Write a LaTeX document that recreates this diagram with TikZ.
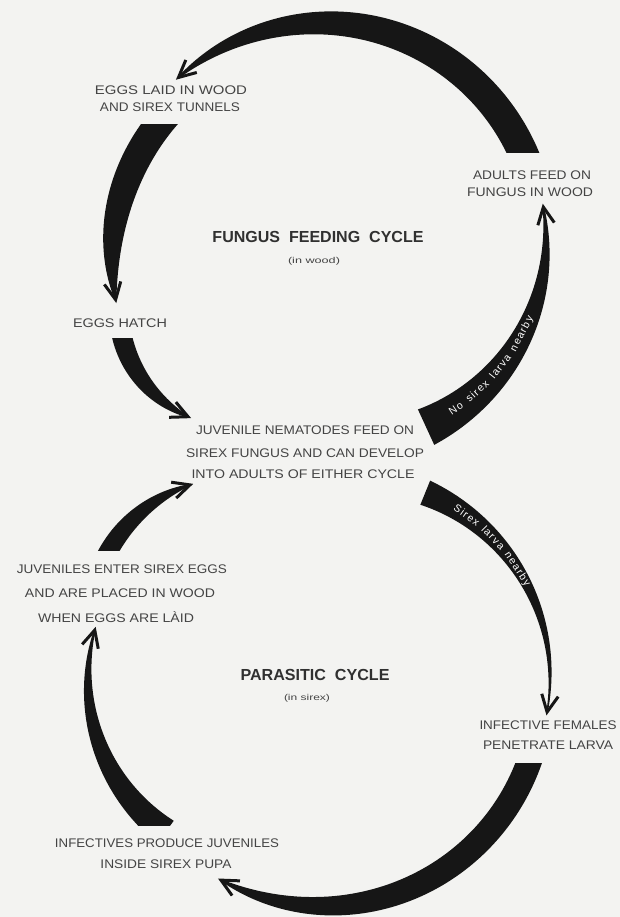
\documentclass[tikz,border=0pt]{standalone}
\usepackage{fontspec}
\setmainfont{Liberation Sans}
\newfontfamily\bandfont[LetterSpace=12]{Liberation Sans}
\usetikzlibrary{calc}
\definecolor{bg}{HTML}{F3F3F1}
\definecolor{ink}{HTML}{161616}
\definecolor{txt}{HTML}{444444}
\newcommand\tw[2]{\resizebox{#1pt}{\height}{#2}}
% tapered arc arrow: cx, cy (pixel, y down), a0, a1, r0, r1, half-width at tail, taper(\u), tip name
\newcommand\tarr[9]{%
  \begingroup
  \pgfmathsetmacro\Cx{#1}\pgfmathsetmacro\Cy{-(#2)}%
  \fill[ink, declare function={tp(\u)=#8; uu(\a)=(\a-(#3))/((#4)-(#3)); rr(\a)=#5+(#6-#5)*uu(\a); ww(\a)=0.8+(#7-0.8)*tp(uu(\a));}]
    plot[domain=#3:#4, samples=90, variable=\t] ({\Cx+(rr(\t)+ww(\t))*cos(\t)},{\Cy+(rr(\t)+ww(\t))*sin(\t)})
    -- plot[domain=#4:#3, samples=90, variable=\t] ({\Cx+(rr(\t)-ww(\t))*cos(\t)},{\Cy+(rr(\t)-ww(\t))*sin(\t)}) -- cycle;
  \pgfmathsetmacro\Tx{\Cx+(#6)*cos(#4)}\pgfmathsetmacro\Ty{\Cy+(#6)*sin(#4)}%
  \pgfmathsetmacro\Bk{(#4)-(((#4)>(#3))?1:-1)*90}%
  \coordinate (#9) at (\Tx,\Ty);
  \draw[chev] ($(#9)+(\Bk+26:19)$) -- (#9) -- ($(#9)+(\Bk-26:19)$);
  \endgroup}
\tikzset{
  lbl/.style={inner sep=0pt, text=txt, font=\fontsize{12.5}{14}\selectfont},
  ttl/.style={inner sep=0pt, text=txt!70!black, font=\fontsize{16}{18}\selectfont\bfseries},
  sub/.style={inner sep=0pt, text=txt, font=\fontsize{8.5}{10}\selectfont},
  chev/.style={draw=ink, line width=3pt, line cap=butt, line join=miter},
  bandtxt/.style={inner sep=0pt, anchor=mid, text=white, font=\bandfont\fontsize{10.5}{12}\selectfont},
}
\begin{document}
\begin{tikzpicture}[x=1pt,y=1pt]
\fill[bg] (0,0) rectangle (620,-917);
\useasboundingbox (0,0) rectangle (620,-917);

% ---- text ----
\node[lbl] (laid1) at (171,-90) {\tw{152}{EGGS LAID IN WOOD}};
\node[lbl] (laid2) at (170,-107) {\tw{140}{AND SIREX TUNNELS}};
\node[lbl] (adult1) at (532,-175) {\tw{118}{ADULTS FEED ON}};
\node[lbl] (adult2) at (530,-192) {\tw{126}{FUNGUS IN WOOD}};
\node[ttl] (fungus) at (318,-237) {\tw{211}{FUNGUS\ \ FEEDING\ \ CYCLE}};
\node[sub] (inwood) at (314,-261) {\tw{52}{(in wood)}};
\node[lbl] (hatch) at (120,-323) {\tw{94}{EGGS HATCH}};
\node[lbl] (juv1) at (305,-430) {\tw{218}{JUVENILE NEMATODES FEED ON}};
\node[lbl] (juv2) at (305,-453) {\tw{238}{SIREX FUNGUS AND CAN DEVELOP}};
\node[lbl] (juv3) at (303,-474) {\tw{223}{INTO ADULTS OF EITHER CYCLE}};
\node[lbl] (ent1) at (122,-569) {\tw{210}{JUVENILES ENTER SIREX EGGS}};
\node[lbl] (ent2) at (120,-593) {\tw{190}{AND ARE PLACED IN WOOD}};
\node[lbl] (ent3) at (116,-617) {\tw{156}{WHEN EGGS ARE LÀID}};
\node[ttl] (para) at (315,-675) {\tw{149}{PARASITIC\ \ CYCLE}};
\node[sub] (insirex) at (307,-698) {\tw{46}{(in sirex)}};
\node[lbl] (fem1) at (548,-725) {\tw{137}{INFECTIVE FEMALES}};
\node[lbl] (fem2) at (548,-745) {\tw{130}{PENETRATE LARVA}};
\node[lbl] (prod1) at (167,-843) {\tw{224}{INFECTIVES PRODUCE JUVENILES}};
\node[lbl] (prod2) at (166,-864) {\tw{131}{INSIDE SIREX PUPA}};

% ---- arrows ----
\begin{scope}\clip (0,-153) rectangle (620,0);
\tarr{323}{242}{20}{131.3}{219}{219}{15}{1-\u*\u*\u}{tipA}
\end{scope}
\begin{scope}\clip (0,-125) rectangle (620,-917);
\tarr{332}{260}{138}{190.4}{220}{220}{14.5}{1-\u*\u*\u}{tipB}
\end{scope}
\begin{scope}\clip (0,-338) rectangle (620,-917);
\tarr{236}{310}{190}{245.8}{117}{117}{10}{1-\u*\u}{tipC}
\end{scope}
\begin{scope}\clip (0,-550) rectangle (620,0);
\tarr{234}{622}{155}{107.8}{144}{144}{9.5}{1-\u*\u}{tipH}
\end{scope}
\tarr{340}{240}{-65.3}{9.2}{206}{206}{19.5}{1-\u}{tipD}
\tarr{350}{678}{67.9}{-9.8}{200}{200}{13}{pow(1.0001-\u,1.4)}{tipE}
\begin{scope}\clip (0,-763) rectangle (620,-917);
\tarr{324}{688}{-15}{-118.2}{218}{218}{12.5}{1-\u*\u*\u*\u}{tipF}
\end{scope}
\begin{scope}\clip (0,-825) rectangle (620,0);
\tarr{276}{680}{234}{164.6}{188}{188}{14}{1-\u}{tipG}
\end{scope}

% ---- labels on arrows (words set along the bands) ----
\coordinate (cD) at (340,-240);
\node[bandtxt, rotate=-55.4+90] (d1) at ($(cD)+(-55.4:205)$) {No};
\node[bandtxt, rotate=-47.75+90] (d2) at ($(cD)+(-47.75:205)$) {sirex};
\node[bandtxt, rotate=-38.3+90] (d3) at ($(cD)+(-38.3:205)$) {larva};
\node[bandtxt, rotate=-27.3+90] (d4) at ($(cD)+(-27.3:205)$) {nearby};
\coordinate (cE) at (350,-678);
\node[bandtxt, rotate=54.4-90] (e1) at ($(cE)+(54.4:199.5)$) {Sirex};
\node[bandtxt, rotate=44.4-90] (e2) at ($(cE)+(44.4:199.5)$) {larva};
\node[bandtxt, rotate=33.1-90] (e3) at ($(cE)+(33.1:199.5)$) {nearby};
\end{tikzpicture}
\end{document}
